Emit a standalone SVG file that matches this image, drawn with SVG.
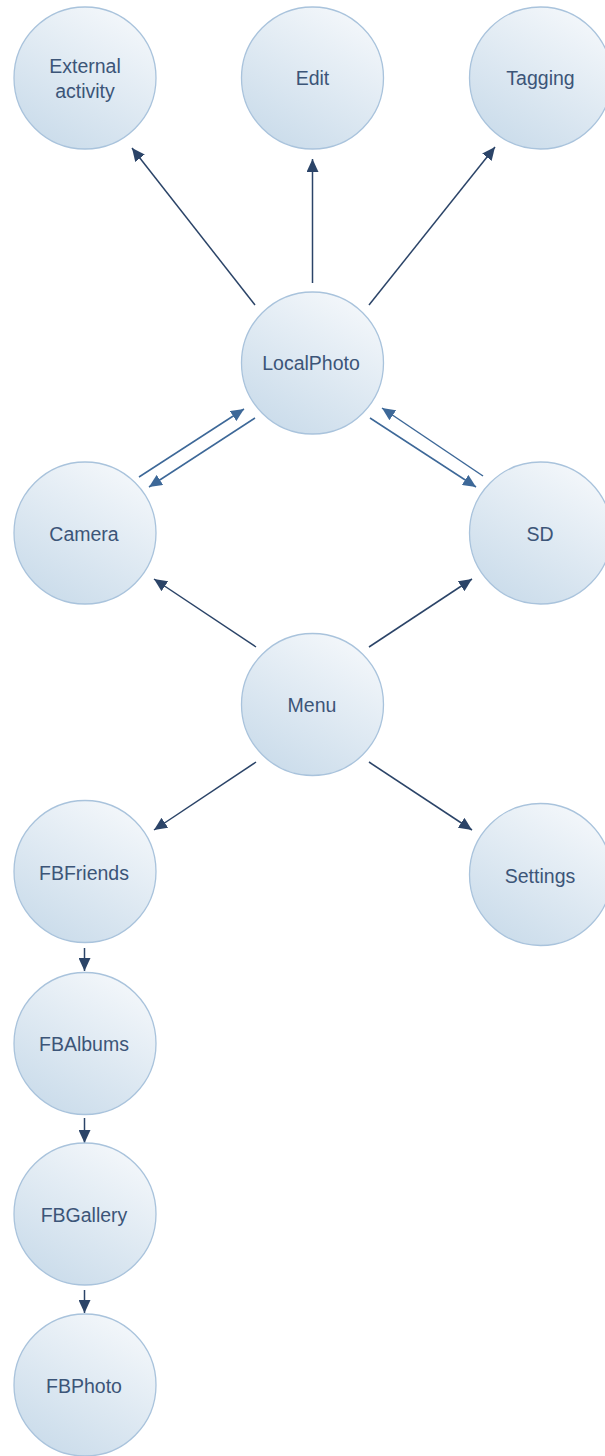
<svg xmlns="http://www.w3.org/2000/svg" width="605" height="1456" viewBox="0 0 605 1456">
<defs>
<style>
.n{fill:url(#g);stroke:#a9c3dc;stroke-width:1.3}
.t{font-family:"Liberation Sans",Arial,sans-serif;font-size:19.5px;fill:#3c5578;text-anchor:middle}
.e{stroke:#2b4468;stroke-width:1.5;fill:none;marker-end:url(#a)}
.e2{stroke:#3d6898;stroke-width:1.5;fill:none;marker-end:url(#b)}
</style>
<linearGradient id="g" x1="0.8" y1="0" x2="0.2" y2="1">
<stop offset="0" stop-color="#f5f8fb"/>
<stop offset="1" stop-color="#c9dbea"/>
</linearGradient>
<marker id="a" markerUnits="userSpaceOnUse" markerWidth="13" markerHeight="12" refX="13" refY="6" orient="auto" viewBox="0 0 13 12">
<path d="M0,0 L13,6 L0,12 z" fill="#2b4468"/>
</marker>
<marker id="b" markerUnits="userSpaceOnUse" markerWidth="13" markerHeight="12" refX="13" refY="6" orient="auto" viewBox="0 0 13 12">
<path d="M0,0 L13,6 L0,12 z" fill="#3d6898"/>
</marker>
</defs>
<rect width="605" height="1456" fill="#ffffff"/>
<g id="connectors">
<line class="e" x1="255" y1="305" x2="132" y2="148"/>
<line class="e" x1="312.5" y1="283" x2="312.5" y2="159"/>
<line class="e" x1="369" y1="305" x2="495" y2="147"/>
<line class="e2" x1="139" y1="477" x2="244" y2="409"/>
<line class="e2" x1="255" y1="418" x2="149" y2="487"/>
<line class="e2" x1="370" y1="418" x2="476" y2="487"/>
<line class="e2" x1="483" y1="476" x2="382" y2="408"/>
<line class="e" x1="256" y1="647" x2="154" y2="579"/>
<line class="e" x1="369" y1="647" x2="472" y2="579"/>
<line class="e" x1="256" y1="762" x2="154" y2="830"/>
<line class="e" x1="369" y1="762" x2="472" y2="830"/>
<line class="e" x1="84.5" y1="948" x2="84.5" y2="971"/>
<line class="e" x1="84.5" y1="1118" x2="84.5" y2="1143"/>
<line class="e" x1="84.5" y1="1290" x2="84.5" y2="1313"/>
</g>
<g id="external"><circle class="n" cx="85" cy="78" r="71"/><text class="t" x="85" y="73">External</text><text class="t" x="85" y="98">activity</text></g>
<g id="edit"><circle class="n" cx="312.5" cy="78" r="71"/><text class="t" x="312.5" y="85">Edit</text></g>
<g id="tagging"><circle class="n" cx="540.5" cy="78" r="71"/><text class="t" x="540.5" y="85">Tagging</text></g>
<g id="localphoto"><circle class="n" cx="312.5" cy="363" r="71"/><text class="t" x="311" y="369.5">LocalPhoto</text></g>
<g id="camera"><circle class="n" cx="85" cy="533" r="71"/><text class="t" x="84" y="541">Camera</text></g>
<g id="sd"><circle class="n" cx="540.5" cy="533" r="71"/><text class="t" x="540" y="541">SD</text></g>
<g id="menu"><circle class="n" cx="312.5" cy="704.5" r="71"/><text class="t" x="312" y="712">Menu</text></g>
<g id="fbfriends"><circle class="n" cx="85" cy="871.5" r="71"/><text class="t" x="84" y="880">FBFriends</text></g>
<g id="settings"><circle class="n" cx="540.5" cy="874.5" r="71"/><text class="t" x="540" y="883">Settings</text></g>
<g id="fbalbums"><circle class="n" cx="85" cy="1043.5" r="71"/><text class="t" x="84" y="1051">FBAlbums</text></g>
<g id="fbgallery"><circle class="n" cx="85" cy="1214" r="71"/><text class="t" x="84" y="1222">FBGallery</text></g>
<g id="fbphoto"><circle class="n" cx="85" cy="1385" r="71"/><text class="t" x="84" y="1393">FBPhoto</text></g>
</svg>
